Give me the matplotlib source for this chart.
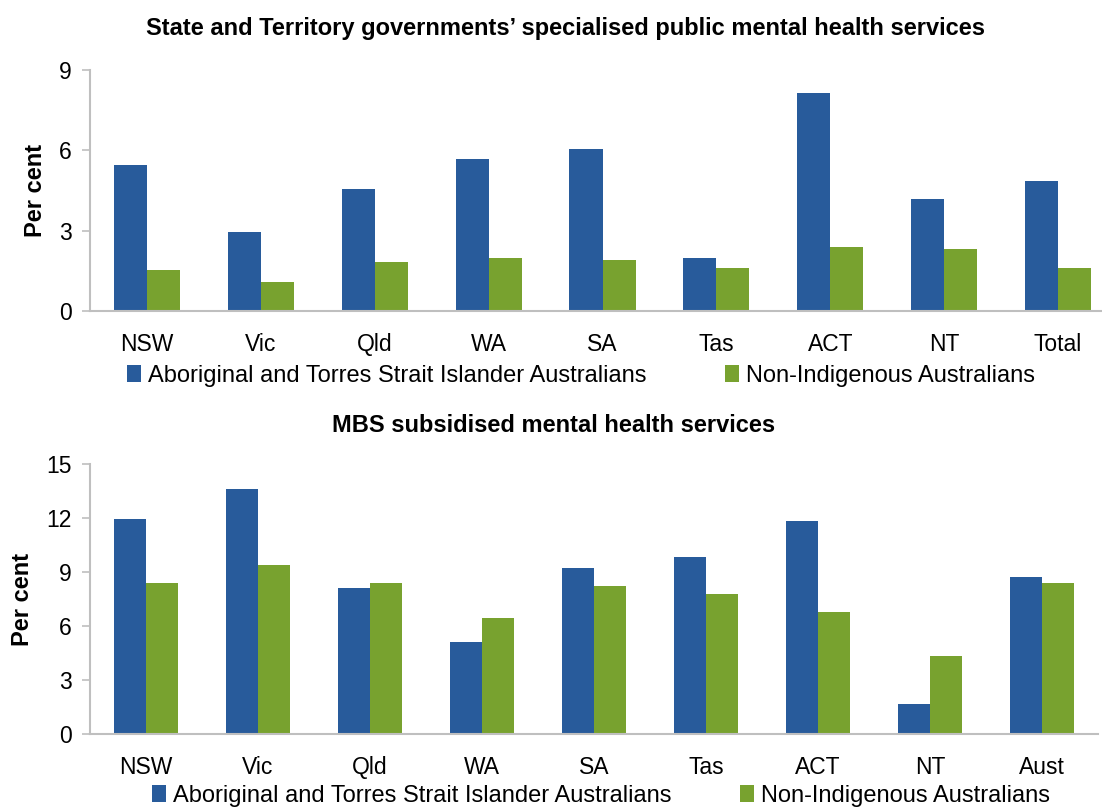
import matplotlib
matplotlib.use("Agg")
import matplotlib.pyplot as plt
import numpy as np
from matplotlib.patches import Patch

plt.rcParams['font.family'] = ['Liberation Sans', 'DejaVu Sans']

# ---- data ----
top_categories = ["NSW", "Vic", "Qld", "WA", "SA", "Tas", "ACT", "NT", "Total"]
top_indigenous = [5.45, 2.94, 4.57, 5.68, 6.04, 1.97, 8.13, 4.19, 4.85]
top_non_indigenous = [1.52, 1.07, 1.82, 1.97, 1.89, 1.59, 2.40, 2.33, 1.59]
top_yticks = [0, 3, 6, 9]

bot_categories = ["NSW", "Vic", "Qld", "WA", "SA", "Tas", "ACT", "NT", "Aust"]
bot_indigenous = [11.95, 13.6, 8.09, 5.11, 9.2, 9.85, 11.85, 1.69, 8.74]
bot_non_indigenous = [8.41, 9.41, 8.41, 6.43, 8.2, 7.76, 6.76, 4.33, 8.41]
bot_yticks = [0, 3, 6, 9, 12, 15]

series_names = ["Aboriginal and Torres Strait Islander Australians",
                "Non-Indigenous Australians"]
top_title = "State and Territory governments\u2019 specialised public mental health services"
bot_title = "MBS subsidised mental health services"

BLUE = "#285B9B"
GREEN = "#78A22F"
GRAY = "#BFBFBF"

TICK_FS = 16.5
TEXT_FS = 17

W, H = 1102, 807
fig = plt.figure(figsize=(W / 100, H / 100), dpi=100)


def px_axes(left, right, top, bottom):
    return fig.add_axes([left / W, 1 - bottom / H, (right - left) / W, (bottom - top) / H])


def draw(ax, cats, s1, s2, yticks):
    x = np.arange(len(cats))
    bw = 0.29
    ax.bar(x - bw / 2, s1, width=bw, color=BLUE, edgecolor='none')
    ax.bar(x + bw / 2, s2, width=bw, color=GREEN, edgecolor='none')
    ax.set_xlim(-0.5, len(cats) - 0.5)
    ax.set_ylim(0, yticks[-1])
    ax.set_yticks(yticks)
    ax.set_xticks(x)
    ax.set_xticklabels(cats, fontsize=TICK_FS)
    ax.tick_params(axis='x', length=0, pad=15.5)
    ax.tick_params(axis='y', length=6, width=1.2, color=GRAY, labelsize=TICK_FS, pad=7)
    for s in ['top', 'right']:
        ax.spines[s].set_visible(False)
    for s in ['left', 'bottom']:
        ax.spines[s].set_color(GRAY)
        ax.spines[s].set_linewidth(1.5)
    ax.set_ylabel("Per cent", fontsize=TEXT_FS, fontweight='bold', labelpad=9)


ax1 = px_axes(90, 1115, 70, 311)
draw(ax1, top_categories, top_indigenous, top_non_indigenous, top_yticks)
ax2 = px_axes(90, 1098, 464, 734)
draw(ax2, bot_categories, bot_indigenous, bot_non_indigenous, bot_yticks)

fig.text(565 / W, 1 - 28 / H, top_title, ha='center', va='center',
         fontsize=TEXT_FS, fontweight='bold')
fig.text(554 / W, 1 - 426 / H, bot_title, ha='center', va='center',
         fontsize=TEXT_FS, fontweight='bold')

handles = [Patch(facecolor=BLUE), Patch(facecolor=GREEN)]
fig.legend(handles, series_names, loc='center', bbox_to_anchor=(581 / W, 1 - 376 / H),
           ncol=2, frameon=False, fontsize=TEXT_FS, handlelength=0.6, handleheight=0.7,
           handletextpad=0.3, columnspacing=3.3, borderpad=0, borderaxespad=0)
fig.legend(handles, series_names, loc='center', bbox_to_anchor=(601 / W, 1 - 796 / H),
           ncol=2, frameon=False, fontsize=TEXT_FS, handlelength=0.6, handleheight=0.7,
           handletextpad=0.3, columnspacing=2.9, borderpad=0, borderaxespad=0)

fig.savefig("out.png", dpi=100)
